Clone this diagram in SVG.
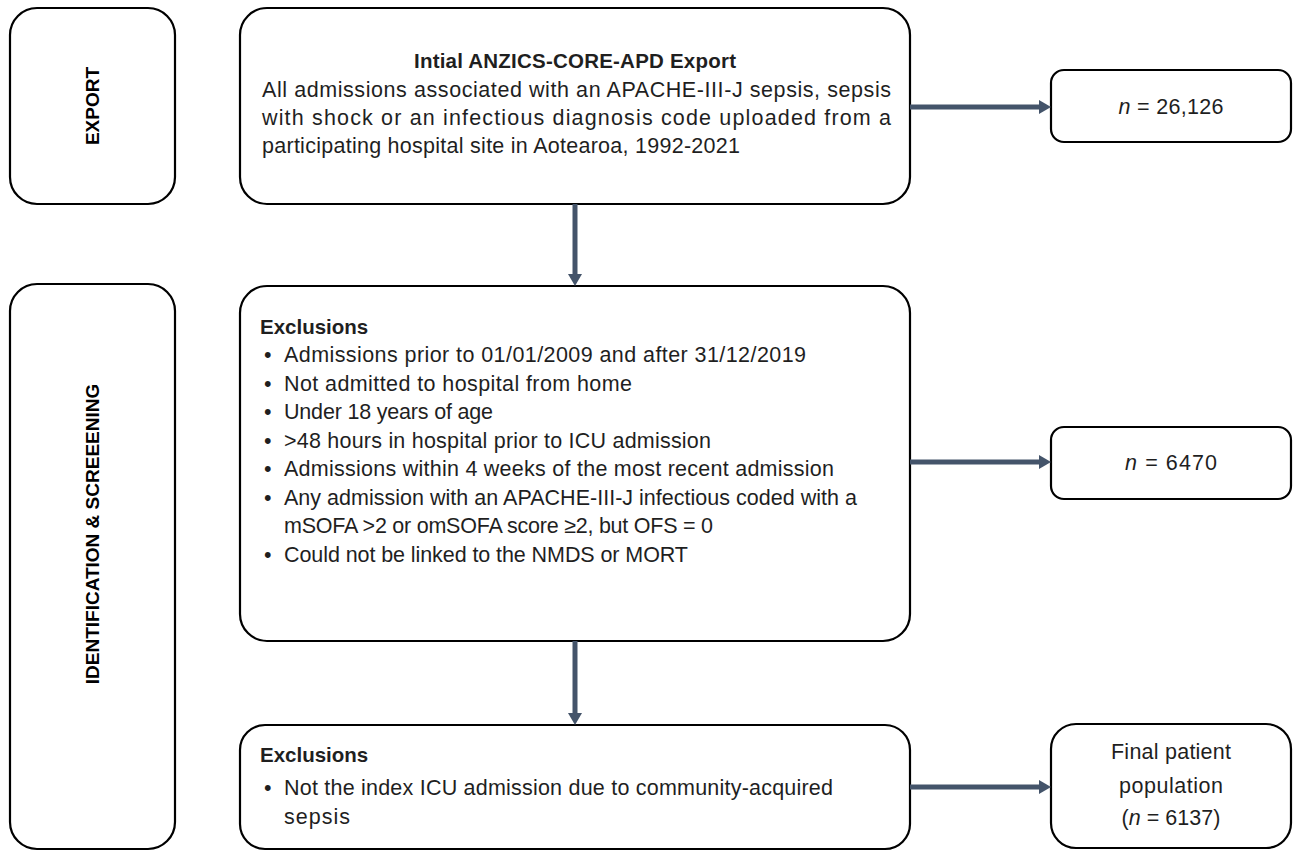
<svg xmlns="http://www.w3.org/2000/svg" width="1293" height="852" viewBox="0 0 1293 852">
  <style>
    .box { fill: #ffffff; stroke: #000000; stroke-width: 2.2; }
    .body { font-family: "Liberation Sans", Arial, sans-serif; font-size: 21.5px; fill: #1f1f1f; }
    .bold { font-weight: bold; font-size: 20.5px; }
    .mid { text-anchor: middle; }
    .label { font-family: "Liberation Sans", Arial, sans-serif; font-size: 19px; font-weight: bold; fill: #000000; text-anchor: middle; }
    .conn { stroke: #44546A; stroke-width: 5; fill: none; }
  </style>
  <defs>
    <marker id="arrow" viewBox="0 0 12 14" refX="0" refY="7" markerWidth="12" markerHeight="14" markerUnits="userSpaceOnUse" orient="auto">
      <path d="M0,0 L12,7 L0,14 z" fill="#44546A"/>
    </marker>
  </defs>
  <rect width="1293" height="852" fill="#ffffff"/>

  <g id="stage-export">
    <rect class="box" x="10" y="8" width="165" height="196" rx="27"/>
    <text class="label" transform="translate(99,106) rotate(-90)">EXPORT</text>
  </g>

  <g id="stage-screening">
    <rect class="box" x="10" y="284" width="165" height="565" rx="27"/>
    <text class="label" transform="translate(99,534) rotate(-90)">IDENTIFICATION &amp; SCREEENING</text>
  </g>

  <g id="export">
    <rect class="box" x="240" y="8" width="670" height="196" rx="27"/>
    <text class="body bold mid" x="575" y="68" textLength="322">Intial ANZICS-CORE-APD Export</text>
    <text class="body" x="262" y="97" textLength="629">All admissions associated with an APACHE-III-J sepsis, sepsis</text>
    <text class="body" x="262" y="125" textLength="629">with shock or an infectious diagnosis code uploaded from a</text>
    <text class="body" x="262" y="153" textLength="478">participating hospital site in Aotearoa, 1992-2021</text>
  </g>

  <g id="n-export">
    <rect class="box" x="1051" y="70" width="240" height="72" rx="13"/>
    <text class="body mid" x="1171" y="114" textLength="105"><tspan font-style="italic">n</tspan> = 26,126</text>
  </g>

  <g id="exclusions-1">
    <rect class="box" x="240" y="286" width="670" height="355" rx="27"/>
    <text class="body bold" x="260" y="334">Exclusions</text>
    <text class="body" x="264" y="362">•</text>
    <text class="body" x="284" y="362" textLength="522">Admissions prior to 01/01/2009 and after 31/12/2019</text>
    <text class="body" x="264" y="391">•</text>
    <text class="body" x="284" y="391" textLength="348">Not admitted to hospital from home</text>
    <text class="body" x="264" y="419">•</text>
    <text class="body" x="284" y="419" textLength="209">Under 18 years of age</text>
    <text class="body" x="264" y="448">•</text>
    <text class="body" x="284" y="448" textLength="427">&gt;48 hours in hospital prior to ICU admission</text>
    <text class="body" x="264" y="476">•</text>
    <text class="body" x="284" y="476" textLength="550">Admissions within 4 weeks of the most recent admission</text>
    <text class="body" x="264" y="505">•</text>
    <text class="body" x="284" y="505" textLength="573">Any admission with an APACHE-III-J infectious coded with a</text>
    <text class="body" x="284" y="533" textLength="429">mSOFA &gt;2 or omSOFA score ≥2, but OFS = 0</text>
    <text class="body" x="264" y="562">•</text>
    <text class="body" x="284" y="562" textLength="404">Could not be linked to the NMDS or MORT</text>
  </g>

  <g id="n-exclusions-1">
    <rect class="box" x="1051" y="427" width="240" height="72" rx="13"/>
    <text class="body mid" x="1171" y="470" textLength="92"><tspan font-style="italic">n</tspan> = 6470</text>
  </g>

  <g id="exclusions-2">
    <rect class="box" x="240" y="725" width="670" height="124" rx="25"/>
    <text class="body bold" x="260" y="762">Exclusions</text>
    <text class="body" x="264" y="795">•</text>
    <text class="body" x="284" y="795" textLength="549">Not the index ICU admission due to community-acquired</text>
    <text class="body" x="284" y="824" textLength="66">sepsis</text>
  </g>

  <g id="final">
    <rect class="box" x="1051" y="724" width="240" height="124" rx="25"/>
    <text class="body mid" x="1171" y="759" textLength="120">Final patient</text>
    <text class="body mid" x="1171" y="793" textLength="104">population</text>
    <text class="body mid" x="1171" y="825" textLength="99">(<tspan font-style="italic">n</tspan> = 6137)</text>
  </g>

  <g id="connectors">
    <line class="conn" x1="910" y1="107" x2="1039" y2="107" marker-end="url(#arrow)"/>
    <line class="conn" x1="575" y1="204" x2="575" y2="274" marker-end="url(#arrow)"/>
    <line class="conn" x1="910" y1="462" x2="1039" y2="462" marker-end="url(#arrow)"/>
    <line class="conn" x1="575" y1="641" x2="575" y2="713" marker-end="url(#arrow)"/>
    <line class="conn" x1="910" y1="787" x2="1039" y2="787" marker-end="url(#arrow)"/>
  </g>
</svg>
